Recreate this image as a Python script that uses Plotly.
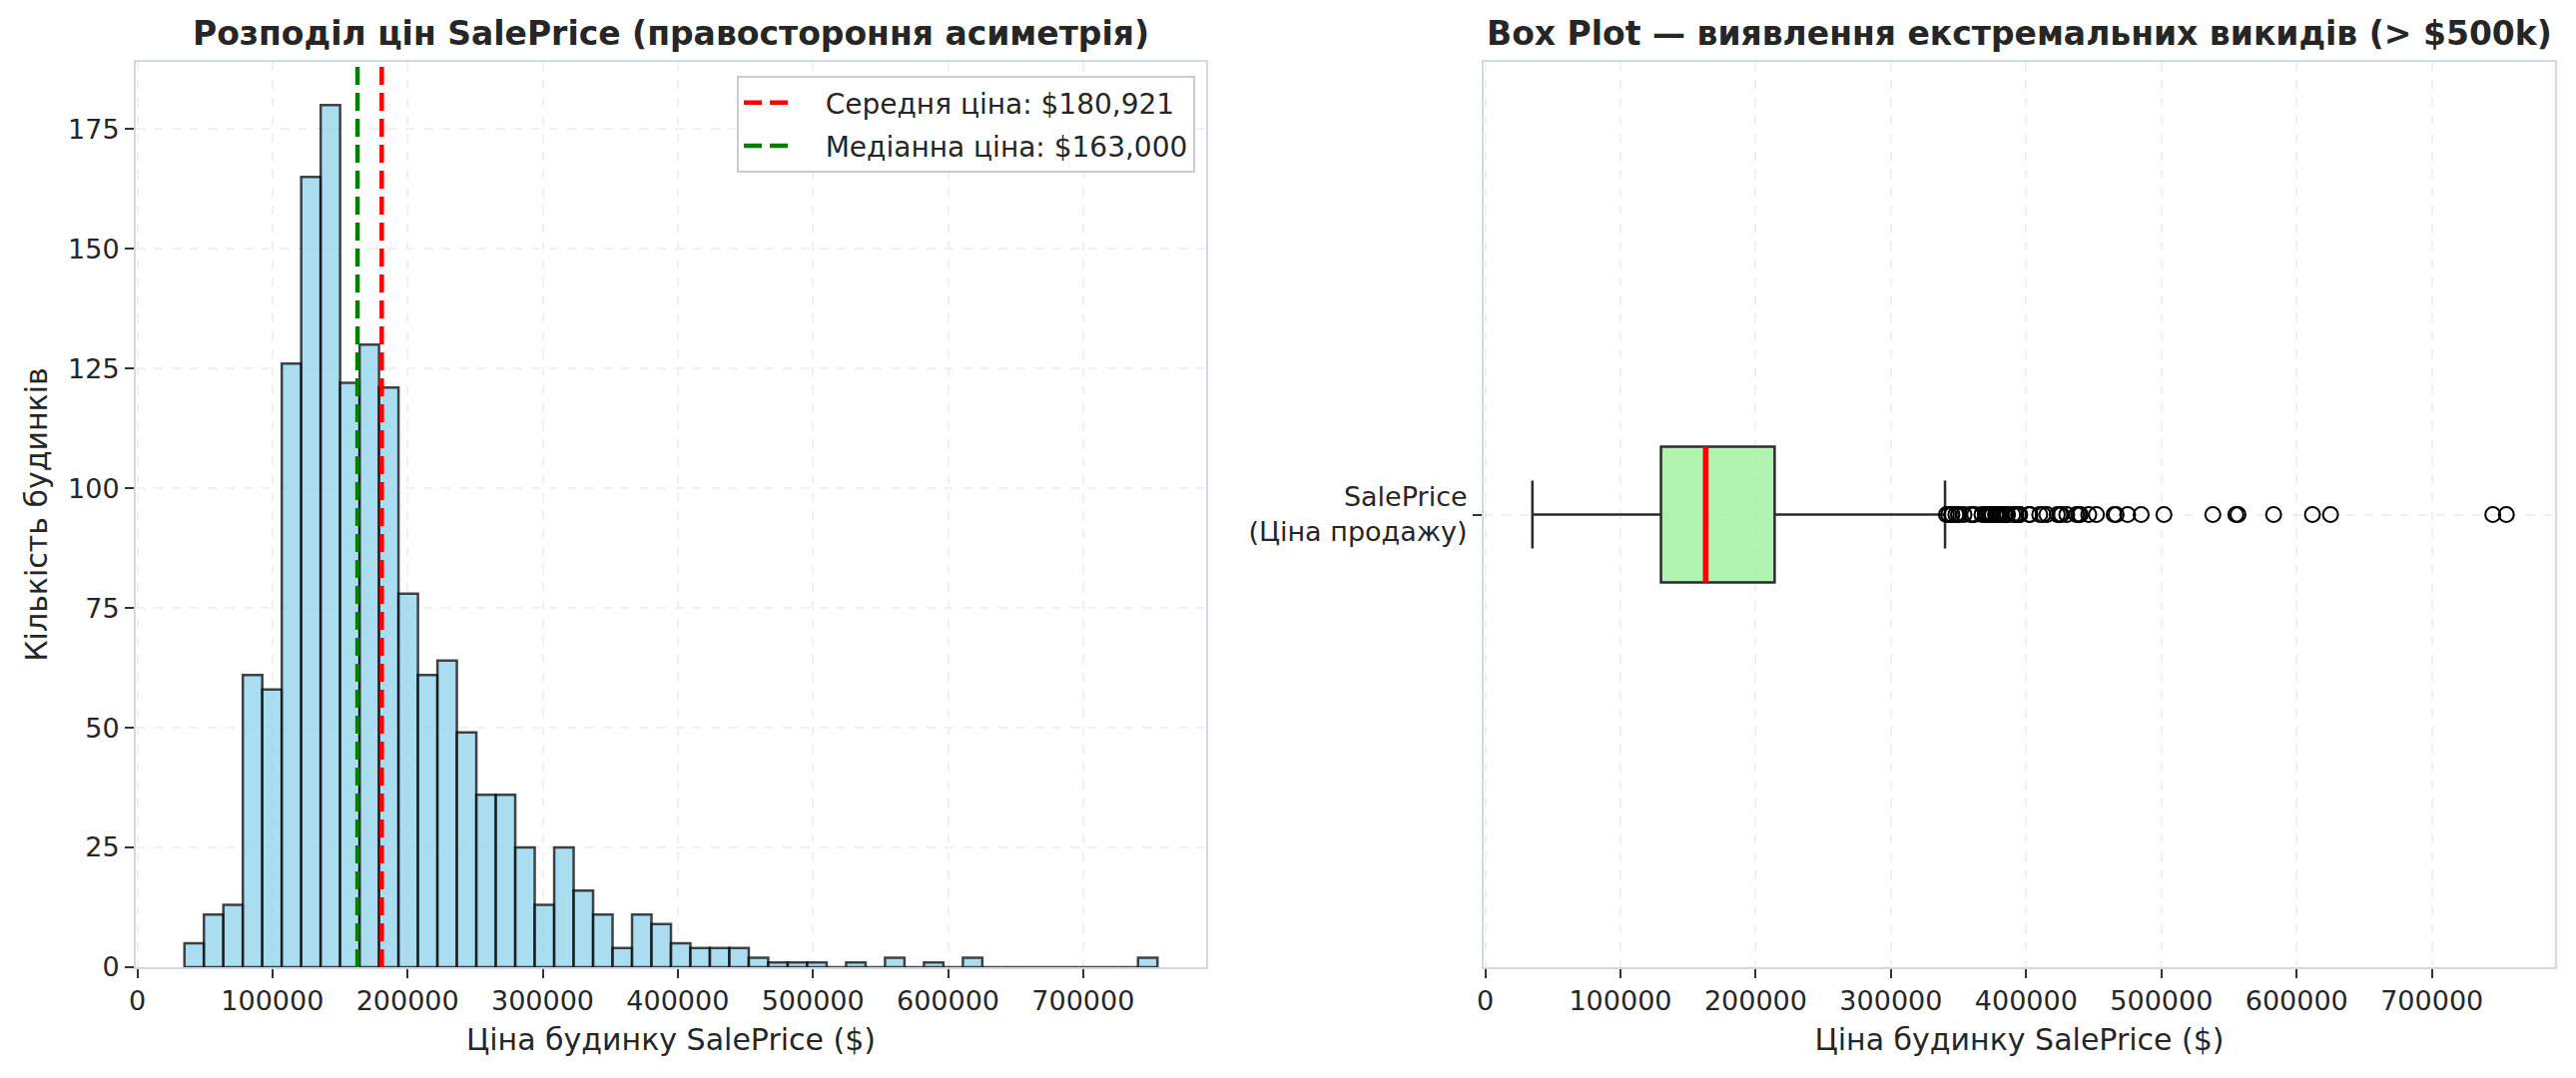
import plotly.graph_objects as go

W, H = 2580, 1080

# ---------------- data ----------------
bin_start = 34900
bin_width = 14402
hist_counts = [5, 11, 13, 61, 58, 126, 165, 180, 122, 130, 121, 78, 61, 64, 49,
               36, 36, 25, 13, 25, 16, 11, 4, 11, 9, 5, 4, 4, 4, 2, 1, 1, 1, 0,
               1, 0, 2, 0, 1, 0, 2, 0, 0, 0, 0, 0, 0, 0, 0, 2]
mean_price = 180921
median_price = 163000

box_min = 34900
box_q1 = 129975
box_median = 163000
box_q3 = 214000
box_upper_whisker = 340000
box_max = 755000
outliers = [341000, 342643, 345000, 345000, 348000, 350000, 350000,
            354000, 359100, 360000, 361919,
            367294, 369900, 370878, 372402, 372500, 374000, 375000, 377426, 377500, 378500, 380000,
            381000, 383970, 385000, 385000, 386250, 390000, 392000, 392500, 394432,
            394617, 395000, 395192, 402000, 402861,
            410000, 412500, 415298, 423000,
            424870, 426000, 430000, 437154,
            438780, 440000, 446261, 451950,
            465000, 466500, 475000, 485000, 501837, 538000, 555000, 556581,
            582933, 611657, 625000, 745000, 755000]

hist_title = "Розподіл цін SalePrice (правостороння асиметрія)"
box_title = "Box Plot — виявлення екстремальних викидів (> $500k)"
x_label = "Ціна будинку SalePrice ($)"
y_label = "Кількість будинків"
box_category = "SalePrice<br>(Ціна продажу)"

# ---------------- layout geometry ----------------
FONT = "DejaVu Sans"
TXT = "#262626"
SPINE = "#d3d9e1"
GRID = "#f0f0f0"

left_x0, left_x1 = 136, 1208
right_x0, right_x1 = 1486, 2559
ax_top, ax_bot = 62, 969

def px_x(v):
    return v / W

def px_y(v):
    return 1 - v / H

bin_lefts = [bin_start + i * bin_width for i in range(len(hist_counts))]
data_lo = bin_start
data_hi = box_max
pad = 0.05 * (data_hi - data_lo)
x_range = [data_lo - pad, data_hi + pad]
y_top = max(hist_counts) * 1.05

GAP = "\u00a0\u00a0\u00a0"

fig = go.Figure()

fig.add_trace(go.Bar(
    x=bin_lefts, y=hist_counts, width=bin_width, offset=0,
    marker=dict(color="rgba(135,206,235,0.7)",
                line=dict(color="rgba(0,0,0,0.72)", width=2.5)),
    showlegend=False, xaxis="x", yaxis="y", hoverinfo="skip"))

fig.add_trace(go.Scatter(
    x=[mean_price, mean_price], y=[0, y_top], mode="lines",
    line=dict(color="red", width=4.5, dash="18px,8px"),
    name=f"{GAP}Середня ціна: ${mean_price:,}", legendgroup="a",
    xaxis="x", yaxis="y"))
fig.add_trace(go.Scatter(
    x=[median_price, median_price], y=[0, y_top], mode="lines",
    line=dict(color="green", width=4.5, dash="18px,8px"),
    name=f"{GAP}Медіанна ціна: ${median_price:,}", legendgroup="b",
    xaxis="x", yaxis="y"))

# box plot
box_w = 0.15
fig.add_trace(go.Box(
    y=[1], q1=[box_q1], median=[box_median], q3=[box_q3],
    lowerfence=[box_min], upperfence=[box_upper_whisker],
    orientation="h", width=box_w, whiskerwidth=0.5,
    fillcolor="rgba(144,238,144,0.7)",
    line=dict(color="#2b2b2b", width=2.5),
    boxpoints=False, showlegend=False, xaxis="x2", yaxis="y2", hoverinfo="skip"))
fig.add_trace(go.Scatter(
    x=[box_median, box_median], y=[1 - box_w / 2, 1 + box_w / 2], mode="lines",
    line=dict(color="red", width=5.5), showlegend=False, xaxis="x2", yaxis="y2"))
fig.add_trace(go.Scatter(
    x=outliers, y=[1] * len(outliers), mode="markers",
    marker=dict(symbol="circle-open", size=15, color="black", line=dict(width=2)),
    showlegend=False, xaxis="x2", yaxis="y2"))

TICK_SIZE = 27
LABEL_SIZE = 30
TITLE_SIZE = 33

axis_common = dict(
    showline=True, mirror=True, linecolor=SPINE, linewidth=2,
    ticks="outside", ticklen=9, tickwidth=2, tickcolor="#333333",
    showgrid=True, gridcolor=GRID, gridwidth=1.5, griddash="dash",
    zeroline=False, automargin=False,
    tickfont=dict(family=FONT, size=TICK_SIZE, color=TXT),
)

fig.update_layout(
    width=W, height=H,
    margin=dict(l=0, r=0, t=0, b=0),
    paper_bgcolor="white", plot_bgcolor="white",
    template="none",
    font=dict(family=FONT, color=TXT),
    xaxis=dict(domain=[px_x(left_x0), px_x(left_x1)], range=x_range,
               dtick=100000, tick0=0, tickformat="d", anchor="y",
               title=dict(text=x_label, font=dict(family=FONT, size=LABEL_SIZE, color=TXT), standoff=14),
               **axis_common),
    yaxis=dict(domain=[px_y(ax_bot), px_y(ax_top)], range=[0, y_top],
               dtick=25, tick0=0, anchor="x",
               title=dict(text=y_label, font=dict(family=FONT, size=LABEL_SIZE, color=TXT), standoff=12),
               **axis_common),
    xaxis2=dict(domain=[px_x(right_x0), px_x(right_x1)], range=x_range,
                dtick=100000, tick0=0, tickformat="d", anchor="y2",
                title=dict(text=x_label, font=dict(family=FONT, size=LABEL_SIZE, color=TXT), standoff=14),
                **axis_common),
    yaxis2=dict(domain=[px_y(ax_bot), px_y(ax_top)], range=[0.5, 1.5],
                tickvals=[1], ticktext=[box_category], anchor="x2",
                **axis_common),
    legend=dict(x=px_x(1197), y=px_y(76), xanchor="right", yanchor="top",
                bgcolor="white", bordercolor="#cccccc", borderwidth=2,
                font=dict(family=FONT, size=28, color=TXT),
                itemwidth=50, tracegroupgap=4),
    showlegend=True,
    annotations=[
        dict(text=f"<b>{hist_title}</b>", x=px_x((left_x0 + left_x1) / 2), y=px_y(34),
             xref="paper", yref="paper", xanchor="center", yanchor="middle",
             showarrow=False, font=dict(family=FONT, size=TITLE_SIZE, color=TXT)),
        dict(text=f"<b>{box_title}</b>", x=px_x((right_x0 + right_x1) / 2), y=px_y(34),
             xref="paper", yref="paper", xanchor="center", yanchor="middle",
             showarrow=False, font=dict(family=FONT, size=TITLE_SIZE, color=TXT)),
    ],
)

fig.write_html("out.html")
